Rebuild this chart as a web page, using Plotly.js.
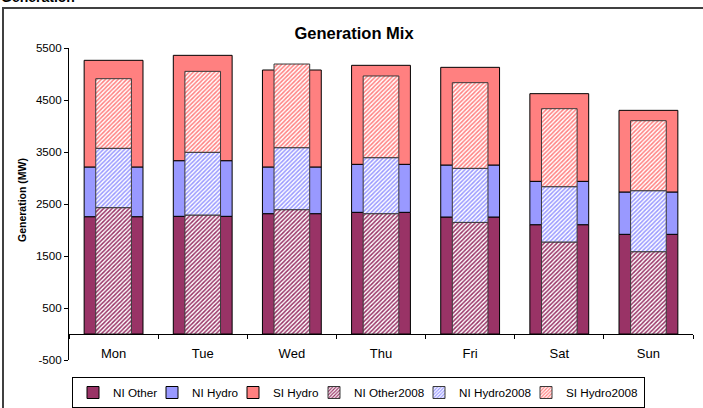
<!DOCTYPE html>
<html>
<head>
<meta charset="utf-8">
<script src="https://cdn.plot.ly/plotly-3.0.1.min.js"></script>
<style>
html,body{margin:0;padding:0;background:#fff;}
#chart{width:703px;height:408px;}
</style>
</head>
<body>
<div id="chart"></div>
<script>
var days = ["Mon", "Tue", "Wed", "Thu", "Fri", "Sat", "Sun"];

var niOther = [2256, 2263, 2314, 2340, 2250, 2102, 1917];
var niHydro = [956, 1070, 898, 923, 1000, 834, 814];
var siHydro = [2051, 2026, 1865, 1904, 1878, 1686, 1570];

var niOther2008 = [2430, 2288, 2391, 2314, 2147, 1769, 1583];
var niHydro2008 = [1141, 1206, 1192, 1077, 1039, 1064, 1173];
var siHydro2008 = [1339, 1557, 1609, 1571, 1647, 1500, 1346];

var yTicks = [-500, 500, 1500, 2500, 3500, 4500, 5500];

function add(a, b) { return a.map(function (v, i) { return v + b[i]; }); }
var zeros = days.map(function () { return 0; });

var cOther = "#993366", cNIH = "#9999FF", cSIH = "#FF8080";
var FONT = "Liberation Sans, Arial, sans-serif";

function solid(name, vals, base, color, lw) {
  return {
    type: "bar", name: name, x: days, y: vals, base: base, width: 0.66,
    legendwidth: lw,
    marker: { color: color, line: { color: "#000000", width: 1 } },
    hoverinfo: "skip"
  };
}
function hatched(name, vals, base, color, lw) {
  return {
    type: "bar", name: name, x: days, y: vals, base: base, width: 0.40,
    legendwidth: lw,
    marker: {
      color: "#ffffff",
      line: { color: "#3a3a3a", width: 1 },
      pattern: { shape: "/", fgcolor: color, bgcolor: "#ffffff", size: 3, solidity: 0.5, fillmode: "replace" }
    },
    hoverinfo: "skip"
  };
}

var data = [
  solid("NI Other", niOther, zeros, cOther, 34),
  solid("NI Hydro", niHydro, niOther, cNIH, 36),
  solid("SI Hydro", siHydro, add(niOther, niHydro), cSIH, 36),
  hatched("NI Other2008", niOther2008, zeros, cOther, 60),
  hatched("NI Hydro2008", niHydro2008, niOther2008, cNIH, 62),
  hatched("SI Hydro2008", siHydro2008, add(niOther2008, niHydro2008), cSIH, 73)
];

var W = 703, H = 408, plotH = 312, plotW = 624;
var layout = {
  width: W, height: H, autosize: false,
  margin: { l: 69, r: 10, t: 48, b: 48, pad: 0, autoexpand: false },
  paper_bgcolor: "#ffffff", plot_bgcolor: "#ffffff",
  font: { family: FONT, size: 11.7, color: "#000000" },
  barmode: "overlay",
  showlegend: true,
  title: { text: "<b>Generation Mix</b>", font: { family: FONT, size: 16.5, color: "#000" },
           x: 354 / W, xref: "container", xanchor: "center", y: 1 - 33.5 / H, yanchor: "middle" },
  xaxis: {
    type: "category", anchor: "free", position: 500 / 6000,
    showline: true, linecolor: "#000000", linewidth: 1,
    ticks: "outside", tickson: "boundaries", ticklen: 4, tickcolor: "#000", tickwidth: 1,
    ticklabelstandoff: 7,
    showgrid: false, zeroline: false,
    tickfont: { family: FONT, size: 13, color: "#000" }
  },
  yaxis: {
    range: [-500, 5500], tickmode: "array", tickvals: yTicks, ticktext: yTicks.map(String),
    showline: true, linecolor: "#000000", linewidth: 1,
    ticks: "outside", ticklen: 4, tickcolor: "#000", tickwidth: 1,
    showgrid: false, zeroline: false,
    tickfont: { family: FONT, size: 11.6, color: "#000" }
  },
  legend: {
    orientation: "h", xref: "container", yref: "container",
    x: 72 / W, xanchor: "left", y: 1 - 377 / H, yanchor: "top",
    bordercolor: "#000000", borderwidth: 1, bgcolor: "#ffffff",
    font: { family: FONT, size: 11.7, color: "#000" },
    itemwidth: 30, traceorder: "normal", tracegroupgap: 0
  },
  annotations: [
    { text: "<b>Generation (MW)</b>", xref: "paper", yref: "paper",
      x: (22 - 69) / plotW, y: 0.5 + 4 / plotH, textangle: -90, showarrow: false,
      xanchor: "center", yanchor: "middle", font: { family: FONT, size: 10.5, color: "#000" } },
    { text: "<b>Generation</b>", xref: "paper", yref: "paper",
      x: (-1 - 69) / plotW, y: 1 + (48 + 3) / plotH, showarrow: false,
      xanchor: "left", yanchor: "middle", font: { family: FONT, size: 14, color: "#000" } }
  ],
  shapes: [
    { type: "rect", xref: "paper", yref: "paper",
      x0: (3 - 69) / plotW, x1: 1.5, y0: -1, y1: 1 + (48 - 8) / plotH,
      line: { color: "#404040", width: 2 }, fillcolor: "rgba(0,0,0,0)", layer: "below" }
  ]
};

Plotly.newPlot("chart", data, layout, { staticPlot: true, displayModeBar: false });
</script>
</body>
</html>
